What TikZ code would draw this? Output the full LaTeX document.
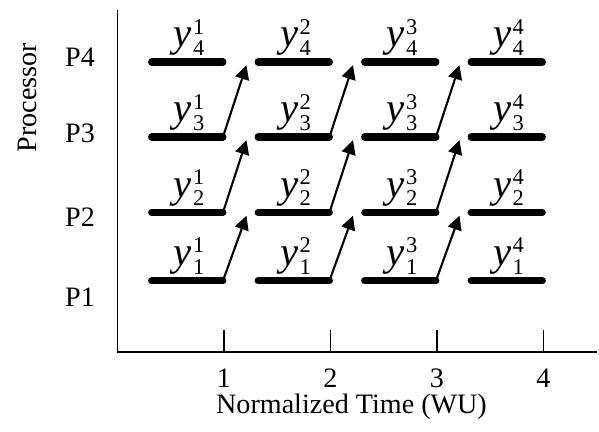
\documentclass[tikz,border=0pt]{standalone}
\usepackage{fontspec}
\setmainfont{Liberation Serif}
\usetikzlibrary{arrows.meta}

\tikzset{every picture/.style={line width=1.4pt},
    bar/.style={line width=5pt, line cap=round},
    link/.style={line width=1.5pt, -{Triangle[length=10pt,width=10pt]}},
    ylabel/.style={anchor=base, inner sep=0pt, font=\fontsize{29}{32}\selectfont},
    axislabel/.style={anchor=base, inner sep=0pt, font=\fontsize{20}{24}\selectfont}}

\newcommand{\yv}[2]{$\mbox{\itshape y}\kern1pt^{\mbox{\fontsize{16}{16}\selectfont #2}}_{\mbox{\fontsize{16}{16}\selectfont #1}}$}

\begin{document}
\begin{tikzpicture}
    \useasboundingbox (-2.9375,-2.0) rectangle (12.0375,8.8);
    % axes
    \draw (0,8.55) -- (0,0) -- (11.99,0);
    \foreach \k in {1,...,4} {
        \draw ({\k*2.6625},0) -- ({\k*2.6625},0.55);
        \node[axislabel] (tick\k) at ({\k*2.6625},-0.88) {\k};
    }
    \node[axislabel] (xlab) at (5.85,-1.55) {Normalized Time (WU)};
    \node[axislabel, rotate=90] (proc) at (-2.0125,6.3625) {Processor};
    \foreach \i/\py in {1/1.125, 2/3.125, 3/5.225, 4/7.125}
        \node[axislabel] (p\i) at (-0.9375,\py) {P\i};
    % work units
    \foreach \i/\ly in {1/1.78, 2/3.4875, 3/5.375, 4/7.25} {
        \foreach \k in {1,...,4} {
            \coordinate (s\i\k) at ({(\k-0.68)*2.6625},\ly);
            \coordinate (e\i\k) at ({(\k-0.01)*2.6625},\ly);
            \draw[bar] (s\i\k) -- (e\i\k);
            \node[ylabel] (y\i\k) at ({(\k-0.345)*2.6625+0.05},\ly+0.38) {\yv{\i}{\k}};
        }
    }
    % hand-over to the next processor
    \foreach \i/\j in {1/2, 2/3, 3/4} {
        \foreach \k in {1,2,3} {
            \pgfmathtruncatemacro\n{\k+1}
            \draw[link] (e\i\k) -- ([shift={(-0.29,-0.08)}]s\j\n);
        }
    }
\end{tikzpicture}
\end{document}
